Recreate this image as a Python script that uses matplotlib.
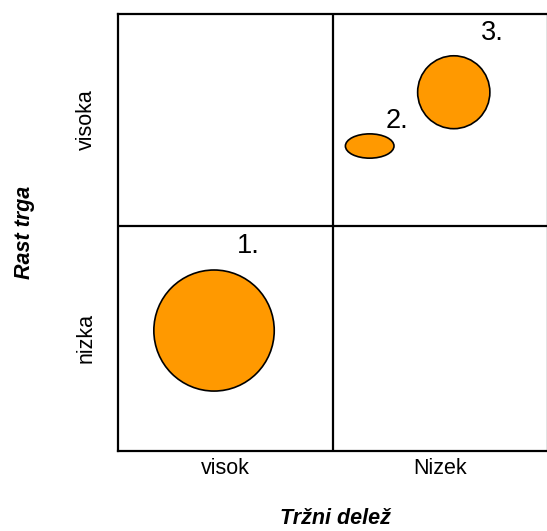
import matplotlib
matplotlib.use("Agg")
import matplotlib.pyplot as plt
from matplotlib.patches import Ellipse

plt.rcParams['font.family'] = ['Liberation Sans', 'DejaVu Sans']

# quadrant labels
x_labels = ["visok", "Nizek"]
y_labels = ["nizka", "visoka"]
x_title = "Tržni delež"
y_title = "Rast trga"

# grid: x splits at 1 (range 0..2), y splits at 1 (range 0..1.942)
x_split, x_max = 1.0, 2.0
y_split, y_max = 1.0, 1.942

# bubbles: centre and size in quadrant units
names = ["1.", "2.", "3."]
bx = [0.449, 1.173, 1.564]
by = [0.534, 1.354, 1.593]
bw = [0.560, 0.226, 0.336]
bh = [0.538, 0.108, 0.324]
# label anchors
lx = [0.607, 1.300, 1.744]
ly = [0.910, 1.465, 1.856]

fig = plt.figure(figsize=(5.47, 5.31), dpi=100)
ax = fig.add_axes([117.5 / 547, 80.3 / 531, 430 / 547, 437 / 531])
ax.set_xlim(0, x_max)
ax.set_ylim(0, y_max)

for sp in ax.spines.values():
    sp.set_linewidth(1.6)
ax.axvline(x_split, color="black", lw=1.6)
ax.axhline(y_split, color="black", lw=1.6)

for n, x, y, w, h, tx, ty in zip(names, bx, by, bw, bh, lx, ly):
    ax.add_patch(Ellipse((x, y), w, h, facecolor="#FF9900",
                         edgecolor="black", lw=1.2))
    ax.text(tx, ty, n, fontsize=19.5, ha="center", va="center")

ax.set_xticks([x_split / 2, (x_split + x_max) / 2])
ax.set_xticklabels(x_labels, fontsize=15.5)
ax.set_yticks([y_split / 2, (y_split + y_max) / 2])
ax.set_yticklabels(y_labels, fontsize=15.5, rotation=90, va="center")
ax.tick_params(axis="x", length=0, pad=5)
ax.tick_params(axis="y", length=0, pad=15)

fig.text(335 / 547, 1 - 519 / 531, x_title, fontsize=15.5, fontweight="bold",
         fontstyle="italic", ha="center", va="center")
fig.text(24.5 / 547, 1 - 232 / 531, y_title, fontsize=15.5, fontweight="bold",
         fontstyle="italic", ha="center", va="center", rotation=90)

fig.savefig("out.png", dpi=100)
